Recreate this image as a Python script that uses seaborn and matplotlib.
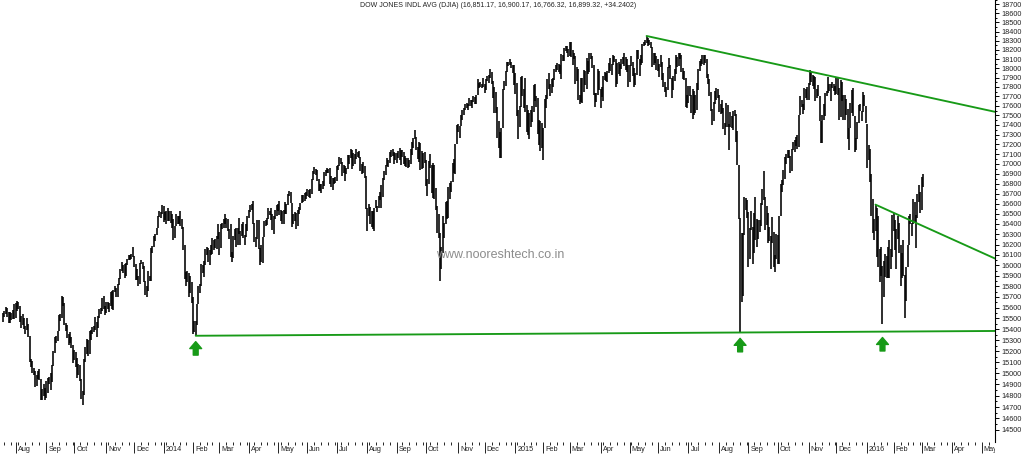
import numpy as np
import pandas as pd
import matplotlib
matplotlib.use("Agg")
import matplotlib.pyplot as plt
import seaborn as sns
from matplotlib.ticker import FixedLocator, NullFormatter, FuncFormatter
from matplotlib.transforms import Bbox, TransformedBbox, ScaledTranslation, blended_transform_factory

# daily highs / lows of the DJIA, 19 Jul 2013 .. 2 Mar 2016 (one row per month)
hi_2013 = [
    15550, 15565, 15604, 15600, 15560, 15562, 15550, 15580, 15635,
    15642, 15659, 15655, 15612, 15518, 15544, 15505, 15430, 15500, 15451, 15337, 15130, 15110, 15050, 15020, 14980, 15020, 15040, 14946, 14860, 14900, 14870,
    14930, 14955, 14965, 15000, 15070, 15200, 15330, 15340, 15385, 15530, 15540, 15709, 15700, 15640, 15460, 15440, 15360, 15370, 15330, 15258,
    15210, 15190, 15140, 15080, 15070, 14950, 14840, 15130, 15240, 15310, 15300, 15380, 15390, 15420, 15430, 15510, 15467, 15525, 15590, 15600, 15690, 15710, 15620,
    15650, 15650, 15640, 15750, 15760, 15770, 15800, 15785, 15825, 15880, 15965, 16030, 16000, 16010, 16020, 16065, 16100, 16100, 16110, 16175,
    16090, 16010, 15960, 15900, 16025, 16050, 16030, 15990, 15850, 15800, 15950, 15900, 16170, 16190, 16280, 16300, 16360, 16480, 16530, 16520, 16588,
]
lo_2013 = [
    15470, 15512, 15540, 15510, 15460, 15455, 15488, 15490, 15495,
    15500, 15570, 15590, 15470, 15411, 15440, 15400, 15360, 15390, 15330, 15100, 15060, 15005, 14980, 14880, 14890, 14950, 14940, 14765, 14760, 14800, 14760,
    14780, 14820, 14905, 14850, 14925, 15065, 15180, 15275, 15290, 15380, 15480, 15500, 15620, 15440, 15380, 15320, 15260, 15270, 15230, 15090,
    15120, 15055, 14960, 14980, 14930, 14770, 14719, 14805, 15100, 15170, 15160, 15170, 15300, 15360, 15370, 15390, 15330, 15410, 15500, 15540, 15565, 15590, 15530,
    15550, 15590, 15560, 15620, 15590, 15580, 15750, 15700, 15700, 15810, 15870, 15950, 15930, 15880, 15900, 16000, 16050, 16050, 16065, 16080,
    15980, 15860, 15860, 15800, 15825, 16010, 15960, 15840, 15720, 15700, 15760, 15850, 15850, 16120, 16180, 16230, 16290, 16360, 16470, 16460, 16500,
]
hi_2014 = [
    16573, 16520, 16530, 16560, 16530, 16530, 16500, 16450, 16380, 16500, 16480, 16480, 16530, 16450, 16370, 16195, 15940, 15950, 15925, 15900, 15840,
    15700, 15480, 15480, 15630, 15800, 15820, 16010, 16000, 16040, 16160, 16180, 16170, 16150, 16200, 16260, 16240, 16250, 16280, 16400,
    16320, 16400, 16410, 16450, 16500, 16460, 16450, 16350, 16400, 16130, 16280, 16350, 16360, 16360, 16460, 16330, 16400, 16420, 16290, 16400, 16480,
    16540, 16590, 16600, 16630, 16410, 16270, 16440, 16440, 16170, 16200, 16270, 16430, 16440, 16460, 16560, 16530, 16560, 16500, 16480, 16540, 16590,
    16600, 16630, 16540, 16530, 16540, 16620, 16600, 16700, 16730, 16720, 16610, 16500, 16520, 16510, 16540, 16570, 16610, 16690, 16690, 16710, 16720,
    16750, 16740, 16750, 16850, 16930, 16970, 16950, 16940, 16850, 16800, 16800, 16830, 16920, 16940, 16960, 16950, 16960, 16880, 16860, 16860, 16870,
    16980, 16990, 17075, 17060, 17020, 16990, 16980, 16960, 17090, 17090, 17150, 17140, 17110, 17100, 17150, 17120, 17130, 17070, 17000, 17020, 16980, 16880,
    16560, 16600, 16570, 16530, 16530, 16560, 16640, 16580, 16680, 16720, 16790, 16860, 16930, 16990, 17060, 17040, 17120, 17140, 17150, 17120, 17110,
    17110, 17130, 17160, 17140, 17140, 17120, 17080, 17060, 17060, 17040, 17150, 17220, 17270, 17350, 17280, 17170, 17220, 17210, 17130, 17110, 17120,
    17040, 16850, 17030, 17100, 16990, 17010, 16990, 16760, 16580, 16500, 16310, 16180, 16480, 16410, 16620, 16630, 16770, 16810, 16830, 17010, 17050, 17200, 17400,
    17410, 17390, 17500, 17560, 17580, 17620, 17630, 17620, 17680, 17660, 17660, 17700, 17690, 17720, 17890, 17840, 17850, 17830, 17895,
    17830, 17890, 17920, 17930, 17990, 17960, 17860, 17800, 17750, 17590, 17440, 17330, 17370, 17780, 17860, 17970, 18070, 18070, 18103, 18070, 18040, 18040,
]
lo_2014 = [
    16420, 16440, 16400, 16430, 16430, 16410, 16360, 16240, 16260, 16380, 16400, 16400, 16380, 16350, 16150, 15870, 15800, 15840, 15700, 15740, 15640,
    15356, 15375, 15340, 15440, 15630, 15740, 15800, 15930, 15890, 16000, 16100, 16030, 16000, 16100, 16110, 16150, 16170, 16160, 16250,
    16100, 16170, 16350, 16360, 16400, 16360, 16330, 16250, 16080, 16030, 16070, 16240, 16180, 16200, 16300, 16200, 16280, 16260, 16200, 16270, 16330,
    16460, 16520, 16540, 16400, 16220, 16180, 16250, 16160, 16000, 16030, 16020, 16270, 16380, 16390, 16450, 16490, 16440, 16340, 16300, 16450, 16480,
    16530, 16490, 16430, 16400, 16400, 16500, 16500, 16590, 16680, 16610, 16370, 16400, 16430, 16350, 16380, 16500, 16540, 16610, 16620, 16630, 16650,
    16680, 16670, 16660, 16700, 16840, 16900, 16890, 16830, 16730, 16730, 16710, 16750, 16780, 16880, 16910, 16910, 16800, 16770, 16740, 16800, 16810,
    16830, 16940, 16980, 17000, 16880, 16910, 16830, 16900, 16950, 17000, 17060, 16950, 16980, 17000, 17050, 17070, 17060, 16930, 16900, 16910, 16860, 16550,
    16330, 16480, 16400, 16370, 16350, 16330, 16560, 16520, 16560, 16640, 16560, 16670, 16840, 16890, 16980, 16970, 17010, 17070, 17080, 17000, 17040,
    17010, 17060, 17040, 16990, 17070, 17000, 16980, 16970, 16960, 16970, 17000, 17090, 17160, 17250, 17140, 17050, 17020, 16940, 16950, 16960, 17010,
    16780, 16680, 16800, 16960, 16710, 16660, 16650, 16540, 16310, 16260, 15855, 15960, 16120, 16260, 16400, 16450, 16460, 16650, 16720, 16820, 16910, 16900, 17200,
    17330, 17270, 17390, 17450, 17500, 17560, 17580, 17560, 17600, 17600, 17580, 17640, 17620, 17620, 17720, 17790, 17800, 17790, 17800,
    17740, 17770, 17860, 17840, 17900, 17830, 17680, 17520, 17530, 17270, 17160, 17060, 17060, 17370, 17770, 17810, 17960, 18020, 18030, 18000, 17950, 17820,
]
hi_2015 = [
    17950, 17840, 17560, 17600, 17910, 17920, 17780, 17900, 17610, 17560, 17520, 17560, 17600, 17820, 17830, 17700, 17680, 17450, 17440, 17420,
    17370, 17670, 17720, 17890, 17950, 17830, 17890, 17900, 17990, 18030, 18060, 18050, 18030, 18150, 18140, 18220, 18240, 18240, 18210,
    18290, 18280, 18200, 18170, 18130, 18010, 17990, 17720, 17900, 17900, 17980, 17970, 18110, 18080, 18160, 18160, 18130, 18030, 17740, 17740, 17990, 17970,
    17780, 17800, 17920, 17960, 17950, 17970, 18060, 18110, 18050, 18140, 18130, 18100, 18060, 18070, 18050, 18100, 18120, 18170, 18120, 18100, 18030,
    18030, 18130, 18070, 18000, 17950, 18200, 18200, 18100, 18140, 18260, 18290, 18310, 18351, 18330, 18310, 18290, 18230, 18170, 18160, 18130,
    18100, 18050, 18140, 18070, 17950, 17850, 17800, 18010, 18110, 18040, 17900, 17920, 17990, 18140, 18120, 18170, 18170, 18140, 18000, 17970, 17900, 17720,
    17810, 17810, 17720, 17780, 17760, 17720, 17840, 17990, 18080, 18100, 18140, 18140, 18140, 18100, 17940, 17880, 17750, 17570, 17640, 17760, 17790, 17780,
    17710, 17620, 17660, 17580, 17420, 17630, 17610, 17410, 17540, 17490, 17550, 17560, 17510, 17340, 16990, 16460, 16310, 16310, 16670, 16660, 16640,
    16520, 16360, 16530, 16370, 16510, 16670, 16450, 16440, 16440, 16610, 16750, 16930, 16670, 16580, 16510, 16370, 16280, 16470, 16320, 16100, 16300,
    16290, 16480, 16800, 16840, 16940, 17070, 17100, 17140, 17140, 17080, 17150, 17220, 17240, 17280, 17300, 17500, 17700, 17660, 17620, 17790, 17780, 17800,
    17840, 17977, 17960, 17930, 17920, 17910, 17780, 17820, 17700, 17440, 17500, 17620, 17740, 17760, 17910, 17830, 17830, 17850, 17830, 17810,
    17895, 17900, 17790, 17870, 17850, 17710, 17710, 17670, 17570, 17370, 17630, 17770, 17790, 17490, 17270, 17430, 17610, 17620, 17550, 17750, 17720, 17600,
]
lo_2015 = [
    17730, 17490, 17260, 17380, 17590, 17700, 17580, 17540, 17330, 17300, 17250, 17380, 17430, 17540, 17650, 17590, 17310, 17190, 17130, 17160,
    17040, 17370, 17580, 17670, 17780, 17700, 17740, 17800, 17870, 17960, 17980, 17960, 17940, 17890, 18080, 18080, 18190, 18170, 18120,
    18130, 18120, 18040, 18100, 17830, 17860, 17660, 17620, 17640, 17630, 17750, 17820, 17780, 17940, 17960, 18100, 18000, 17710, 17590, 17640, 17720, 17770,
    17580, 17690, 17650, 17870, 17860, 17850, 17950, 17970, 17930, 18040, 18070, 17800, 17830, 17940, 17920, 17990, 18050, 18020, 17980, 17960, 17800,
    17850, 18020, 17920, 17800, 17820, 17930, 18100, 17920, 18040, 18060, 18240, 18250, 18270, 18240, 18250, 18220, 18010, 18040, 18060, 17980,
    17970, 17910, 18010, 17870, 17800, 17750, 17690, 17770, 18000, 17880, 17680, 17770, 17860, 17940, 18010, 18020, 18100, 17960, 17880, 17870, 17590, 17580,
    17630, 17700, 17530, 17460, 17500, 17530, 17560, 17770, 17970, 18020, 18050, 18040, 18060, 17900, 17830, 17700, 17550, 17400, 17440, 17620, 17660, 17680,
    17540, 17510, 17530, 17360, 17300, 17380, 17380, 17140, 17380, 17370, 17350, 17490, 17220, 16990, 16450, 15370, 15650, 15710, 16290, 16540, 16460,
    15980, 16060, 16340, 16010, 16120, 16240, 16180, 16250, 16320, 16380, 16590, 16640, 16340, 16390, 16210, 16230, 15960, 16210, 15980, 15940, 16060,
    16010, 16010, 16480, 16720, 16790, 16850, 17000, 17060, 17060, 16910, 16930, 17140, 17120, 17180, 17150, 17170, 17500, 17590, 17510, 17560, 17680, 17660,
    17660, 17820, 17850, 17810, 17780, 17650, 17680, 17700, 17440, 17210, 17210, 17450, 17490, 17700, 17740, 17760, 17650, 17790, 17760, 17710,
    17730, 17720, 17450, 17480, 17650, 17450, 17450, 17500, 17250, 17140, 17370, 17530, 17490, 17120, 17140, 17260, 17420, 17550, 17440, 17540, 17600, 17420,
]
hi_2016 = [
    17410, 17190, 17150, 16900, 16650, 16450, 16591, 16560, 16480, 16160, 16180, 15990, 16040, 16110, 16090, 16180, 16240, 16160, 16486,
    16510, 16440, 16350, 16480, 16410, 16200, 16120, 16240, 15910, 15980, 16200, 16480, 16500, 16410, 16650, 16620, 16490, 16700, 16790, 16720,
    16870, 16900,
]
lo_2016 = [
    16960, 17040, 16820, 16480, 16310, 16240, 16330, 16080, 15980, 15840, 15900, 15451, 15700, 15890, 15880, 15880, 15880, 15960, 16080,
    16330, 16150, 15960, 16250, 16120, 15800, 15880, 15900, 15503, 15660, 15980, 16200, 16400, 16280, 16400, 16420, 16170, 16460, 16620, 16510,
    16540, 16766,
]

nyse_holidays = [
    "2013-09-02", "2013-11-28", "2013-12-25",
    "2014-01-01", "2014-01-20", "2014-02-17", "2014-04-18", "2014-05-26", "2014-07-04",
    "2014-09-01", "2014-11-27", "2014-12-25",
    "2015-01-01", "2015-01-19", "2015-02-16", "2015-04-03", "2015-05-25", "2015-07-03",
    "2015-09-07", "2015-11-26", "2015-12-25",
    "2016-01-01", "2016-01-18", "2016-02-15", "2016-03-25", "2016-05-30",
]
title = "DOW JONES INDL AVG (DJIA) (16,851.17, 16,900.17, 16,766.32, 16,899.32, +34.2402)"
watermark = "www.nooreshtech.co.in"
month_names = ["", "Jan", "Feb", "Mar", "Apr", "May", "Jun", "Jul", "Aug", "Sep", "Oct", "Nov", "Dec"]
green = "#179a17"

high = np.array(hi_2013 + hi_2014 + hi_2015 + hi_2016, dtype=float)
low = np.array(lo_2013 + lo_2014 + lo_2015 + lo_2016, dtype=float)
n = len(high)
days = pd.bdate_range("2013-07-19", "2016-06-30", freq="C", holidays=nyse_holidays)
dates = days[:n]
idx = np.arange(n)

x_left, x_right = -2.2, 710.6


def pick(arr, start, end, fn):
    m = (dates >= start) & (dates <= end)
    i = idx[m][fn(arr[m])]
    return i, arr[i]


def trend(p1, p2, x_end):
    # straight line on the log scale through two pivots, carried to x_end
    (i1, v1), (i2, v2) = p1, p2
    slope = (np.log(v2) - np.log(v1)) / (i2 - i1)
    return [i1, x_end], [v1, np.exp(np.log(v1) + slope * (x_end - i1))]


sns.set_theme(style="white")
plt.rcParams["font.family"] = ["Liberation Sans", "DejaVu Sans"]

fig = plt.figure(figsize=(10.24, 4.54), dpi=100)
ax = fig.add_axes([0, 12 / 454, 995 / 1024, 442 / 454])

ax.vlines(idx, low, high, color="black", linewidth=1.15)

# support: Feb-2014 low -> Aug-2015 low
low_feb14 = pick(low, "2014-02-01", "2014-02-28", np.argmin)
low_aug15 = pick(low, "2015-08-01", "2015-08-31", np.argmin)
low_jan16 = pick(low, "2016-01-01", "2016-01-31", np.argmin)
sx, sy = trend(low_feb14, low_aug15, x_right)
sns.lineplot(x=sx, y=sy, ax=ax, color=green, linewidth=1.35)

# resistance: May-2015 top -> Dec-2015 top
rx, ry = trend(pick(high, "2015-05-01", "2015-05-31", np.argmax),
               pick(high, "2015-12-01", "2015-12-31", np.argmax), x_right)
sns.lineplot(x=rx, y=ry, ax=ax, color=green, linewidth=1.35)

# short falling line: mid-Jan 2016 top -> 1 Feb 2016 top
tx, ty = trend(pick(high, "2016-01-11", "2016-01-15", np.argmax),
               pick(high, "2016-02-01", "2016-02-05", np.argmax), x_right)
sns.lineplot(x=tx, y=ty, ax=ax, color=green, linewidth=1.35)

s_slope = (np.log(sy[1]) - np.log(sy[0])) / (sx[1] - sx[0])
for i, _ in (low_feb14, low_aug15, low_jan16):
    base = np.exp(np.log(sy[0]) + s_slope * (i - sx[0]))
    ax.annotate("", xy=(i, base * 0.9965), xytext=(i, base * 0.9885),
                arrowprops=dict(arrowstyle="simple,head_length=0.5,head_width=0.85,tail_width=0.35",
                                color=green, mutation_scale=10, shrinkA=0, shrinkB=0))

ax.set_yscale("log")
ax.set_xlim(x_left, x_right)
ax.set_ylim(14396, 18750)

yticks = list(range(14500, 18701, 100))
ax.yaxis.set_major_locator(FixedLocator(yticks))
ax.yaxis.set_major_formatter(FuncFormatter(lambda v, p: f"{v:.0f}"))
ax.yaxis.set_minor_locator(FixedLocator([v + 50 for v in yticks]))
ax.yaxis.set_minor_formatter(NullFormatter())
ax.yaxis.tick_right()
ax.tick_params(axis="y", which="both", right=True, left=False, direction="out",
               color="black", width=0.7, labelsize=5.2, labelcolor="#222222", pad=1.5)
ax.tick_params(axis="y", which="major", length=3)
ax.tick_params(axis="y", which="minor", length=1.5)

vis = days[: int(x_right) + 1]
month_idx = [i for i in range(1, len(vis)) if vis[i].month != vis[i - 1].month]
week_idx = [i for i in range(1, len(vis)) if vis[i].isocalendar()[1] != vis[i - 1].isocalendar()[1]]
ax.xaxis.set_major_locator(FixedLocator(month_idx))
ax.xaxis.set_minor_locator(FixedLocator(week_idx))
ax.xaxis.set_major_formatter(NullFormatter())
ax.tick_params(axis="x", which="both", bottom=True, direction="out", color="black", width=0.6)
ax.tick_params(axis="x", which="major", length=8)
ax.tick_params(axis="x", which="minor", length=2)

clip = TransformedBbox(Bbox([[0, 0], [995 / 1024, 1]]), fig.transFigure)
lab_tr = blended_transform_factory(ax.transData, fig.transFigure) + ScaledTranslation(0.02, 0, fig.dpi_scale_trans)
for i in month_idx:
    d = vis[i]
    name = str(d.year) if d.month == 1 else month_names[d.month]
    t = fig.text(i, 1 - 446 / 454, name, transform=lab_tr, ha="left", va="top",
                 fontsize=5.2, color="#222222")
    t.set_clip_box(clip)
    t.set_clip_on(True)

for side in ("top", "left", "bottom"):
    ax.spines[side].set_visible(False)
ax.spines["right"].set_color("black")
ax.spines["right"].set_linewidth(0.8)

fig.text(0.486, 1 - 5.5 / 454, title, ha="center", va="center", fontsize=5, color="#222222")
fig.text(0.488, 1 - 255 / 454, watermark, ha="center", va="center", fontsize=9, color="#8c8c8c")

fig.savefig("out.png", dpi=100)
